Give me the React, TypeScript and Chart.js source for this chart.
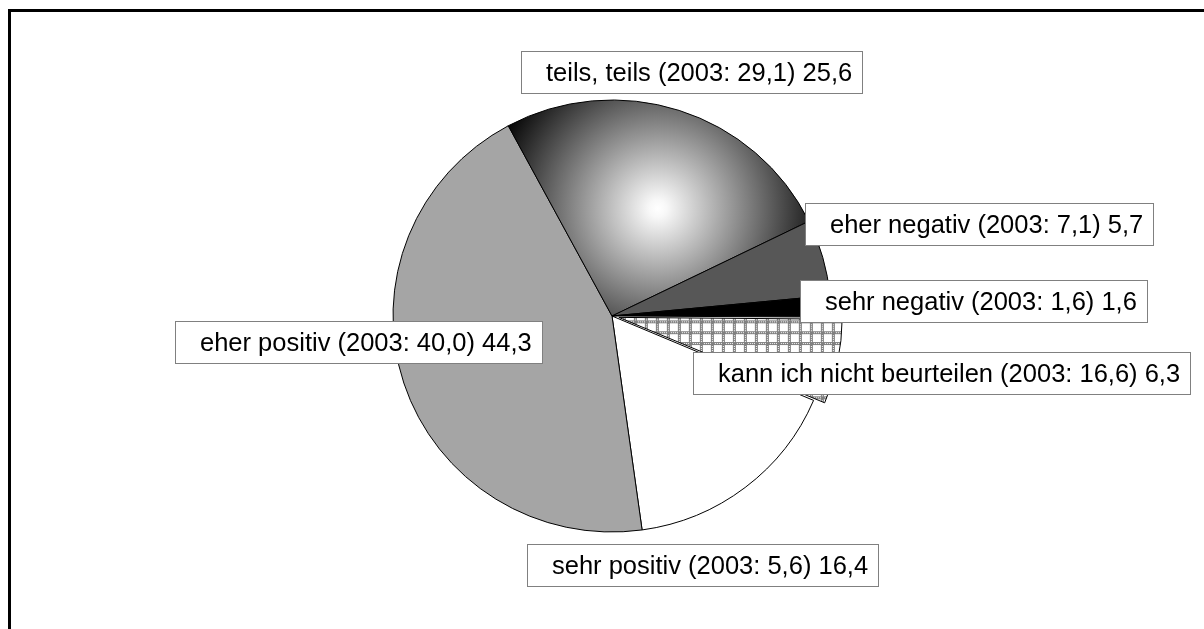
import React, { useEffect, useRef } from 'react';
import { Chart, registerables } from 'chart.js';

Chart.register(...registerables);

// ---- data ----
const categories = [
  'sehr positiv',
  'eher positiv',
  'teils, teils',
  'eher negativ',
  'sehr negativ',
  'kann ich nicht beurteilen',
];
const valuesCurrent = [16.4, 44.3, 25.6, 5.7, 1.6, 6.3];
const values2003 = [5.6, 40.0, 29.1, 7.1, 1.6, 16.6];

// ---- layout / style (not data) ----
const W = 1204;
const H = 629;
const RADIUS = 219;
const Y_SCALE = 216 / 219;
const ROTATION = 113;
const sliceOffsets = [0, 0, 0, 0, 0, 28];
const solidFills = ['#ffffff', '#a5a5a5', '', '#575757', '#000000', ''];
// [text left dx, box top dy] relative to the pie centre
const labelAnchors: [number, number][] = [
  [-60, 228],
  [-412, 5],
  [-66, -265],
  [218, -113],
  [213, -36],
  [106, 36],
];
const LABEL_FONT = '25.5px "Liberation Sans", Arial, sans-serif';
const BOX_H = 42;
const PAD_L = 25;
const PAD_R = 10;

const fmt = (v: number) => v.toFixed(1).replace('.', ',');

function makePattern(ctx: CanvasRenderingContext2D): CanvasPattern | string {
  const t = document.createElement('canvas');
  t.width = 11;
  t.height = 11;
  const c = t.getContext('2d');
  if (!c) return '#c0c0c0';
  c.fillStyle = '#ffffff';
  c.fillRect(0, 0, 11, 11);
  c.fillStyle = '#808080';
  c.fillRect(0, 0, 11, 3);
  c.fillRect(0, 0, 3, 11);
  c.fillStyle = '#ffffff';
  for (let k = 4; k < 11; k += 2) {
    c.fillRect(k, 1, 1, 1);
    c.fillRect(1, k, 1, 1);
  }
  return ctx.createPattern(t, 'repeat') || '#c0c0c0';
}

export default function App() {
  const ref = useRef<HTMLCanvasElement | null>(null);

  useEffect(() => {
    document.body.style.margin = '0';
    const canvas = ref.current;
    if (!canvas) return;
    const ctx2d = canvas.getContext('2d');
    if (!ctx2d) return;
    const pattern = makePattern(ctx2d);
    const total = valuesCurrent.reduce((a, b) => a + b, 0);

    const centre = (chart: any) => {
      const a = chart.chartArea;
      return { cx: (a.left + a.right) / 2, cy: (a.top + a.bottom) / 2 };
    };

    const plugin = {
      id: 'customDraw',
      beforeDraw(chart: any) {
        const c = chart.ctx;
        c.save();
        c.fillStyle = '#ffffff';
        c.fillRect(0, 0, chart.width, chart.height);
        c.restore();
      },
      beforeDatasetsDraw(chart: any) {
        const c = chart.ctx;
        const { cx, cy } = centre(chart);
        c.save();
        c.translate(cx, cy);
        c.scale(1, Y_SCALE);
        c.translate(-cx, -cy);
      },
      afterDatasetsDraw(chart: any) {
        const c = chart.ctx;
        c.restore();
        const { cx, cy } = centre(chart);
        c.save();
        c.font = LABEL_FONT;
        c.textBaseline = 'alphabetic';
        c.textAlign = 'left';
        categories.forEach((cat, i) => {
          const text = `${cat} (2003: ${fmt(values2003[i])}) ${fmt(valuesCurrent[i])}`;
          const tw = c.measureText(text).width;
          const tx = Math.round(cx + labelAnchors[i][0]);
          const top = Math.round(cy + labelAnchors[i][1]);
          const left = tx - PAD_L;
          const bw = Math.round(PAD_L + tw + PAD_R);
          c.fillStyle = '#ffffff';
          c.fillRect(left, top, bw, BOX_H);
          c.strokeStyle = '#808080';
          c.lineWidth = 1;
          c.strokeRect(left + 0.5, top + 0.5, bw, BOX_H);
          c.fillStyle = '#000000';
          c.fillText(text, tx, top + 29.5);
        });
        c.restore();
      },
      afterDraw(chart: any) {
        const c = chart.ctx;
        c.save();
        c.fillStyle = '#000000';
        c.fillRect(8, 9, chart.width - 8, 3);
        c.fillRect(8, 9, 3, chart.height - 9);
        c.restore();
      },
    };

    const chart = new Chart(canvas, {
      type: 'pie',
      data: {
        labels: categories,
        datasets: [
          {
            data: valuesCurrent,
            backgroundColor: (ctx: any) => {
              const i = ctx.dataIndex;
              if (i === 5) return pattern;
              if (i !== 2) return solidFills[i];
              const chart = ctx.chart;
              if (!chart.chartArea) return '#808080';
              const { cx, cy } = centre(chart);
              let start = ROTATION;
              for (let k = 0; k < i; k++) start += (valuesCurrent[k] / total) * 360;
              const mid = start + (valuesCurrent[i] / total) * 180 + 5;
              const rad = (mid * Math.PI) / 180;
              const gx = cx + Math.sin(rad) * 0.54 * RADIUS;
              const gy = cy - Math.cos(rad) * 0.54 * RADIUS;
              const g = chart.ctx.createRadialGradient(gx, gy, 0, gx, gy, 0.8 * RADIUS);
              g.addColorStop(0, '#ffffff');
              g.addColorStop(0.05, '#f8f8f8');
              g.addColorStop(1, '#000000');
              return g;
            },
            borderColor: '#000000',
            borderWidth: 1,
            offset: sliceOffsets,
            hoverOffset: 0,
          },
        ],
      },
      options: {
        responsive: false,
        animation: false,
        events: [],
        rotation: ROTATION,
        radius: RADIUS,
        layout: { padding: { left: 20, right: 0, top: 3, bottom: 0 } },
        plugins: {
          legend: { display: false },
          tooltip: { enabled: false },
          title: { display: false },
        },
      } as any,
      plugins: [plugin],
    });

    return () => chart.destroy();
  }, []);

  return (
    <div style={{ position: 'absolute', left: 0, top: 0, width: W, height: H, overflow: 'hidden' }}>
      <canvas ref={ref} width={W} height={H} style={{ display: 'block', width: W, height: H }} />
    </div>
  );
}
